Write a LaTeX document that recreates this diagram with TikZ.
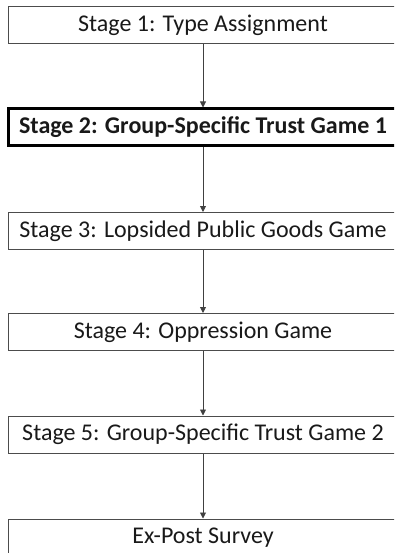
\documentclass[tikz,border=0pt]{standalone}
\usepackage{fontspec}
\setmainfont{Carlito}
\usetikzlibrary{arrows.meta}
\begin{document}
\begin{tikzpicture}[x=1pt,y=1pt,
  stagebox/.style={draw=black!70, line width=1pt, minimum width=390pt, minimum height=37pt, inner sep=0pt, font=\fontsize{24}{28}\selectfont, text=black!90},
  thickbox/.style={stagebox, draw=black, line width=3pt, font=\fontsize{24}{28}\selectfont\bfseries},
  flow/.style={draw=black!75, line width=0.9pt, -{Triangle[length=6pt,width=6pt]}}]
\useasboundingbox (0,0) rectangle (394,-553);
\clip (0,0) rectangle (394,-553);
\node[stagebox] (s1) at (203,-25.5) {Stage 1: Type Assignment};
\node[thickbox] (s2) at (203,-127.5) {Stage 2: Group-Specific Trust Game 1};
\node[stagebox] (s3) at (203,-231) {Stage 3: Lopsided Public Goods Game};
\node[stagebox] (s4) at (203,-332) {Stage 4: Oppression Game};
\node[stagebox] (s5) at (203,-434.5) {Stage 5: Group-Specific Trust Game 2};
\node[stagebox] (s6) at (203,-537.5) {Ex-Post Survey};
\draw[flow] (s1) -- (s2);
\draw[flow] (s2) -- (s3);
\draw[flow] (s3) -- (s4);
\draw[flow] (s4) -- (s5);
\draw[flow] (s5) -- (s6);
\end{tikzpicture}
\end{document}
